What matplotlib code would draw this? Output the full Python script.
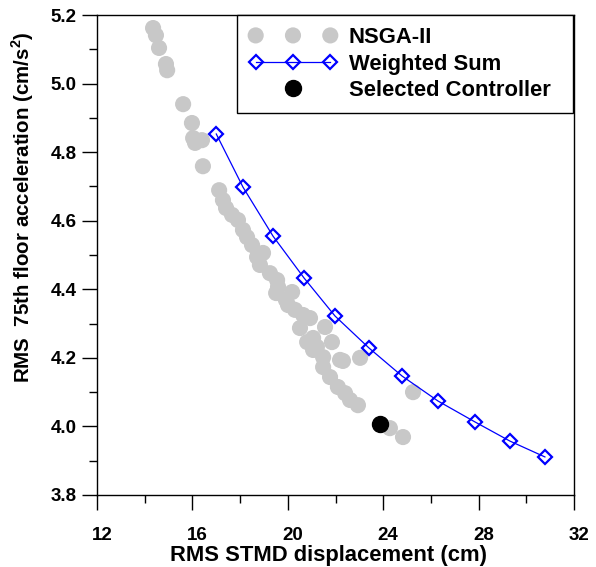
#!/usr/bin/env python3

import matplotlib
matplotlib.use('Agg')
import matplotlib.pyplot as plt
import matplotlib.ticker as ticker
import matplotlib.transforms as mtransforms
from matplotlib.legend_handler import HandlerLine2D

plt.rcParams['font.family'] = ['Liberation Sans', 'DejaVu Sans']
plt.rcParams['font.weight'] = 'bold'

# NSGA-II pareto front
nsga_x = [14.35, 14.47, 14.60, 14.89, 14.94, 15.61, 15.98, 16.03, 16.11, 16.40,
          16.44, 17.12, 17.28, 17.41, 17.66, 17.91, 18.12, 18.29, 18.50, 18.96,
          18.71, 18.83, 19.25, 19.55, 19.59, 19.51, 19.92, 20.01, 20.18, 20.30,
          20.64, 20.93, 20.51, 21.56, 20.81, 21.06, 21.06, 21.85, 21.22, 21.48,
          22.19, 22.31, 23.03, 21.48, 21.77, 22.10, 22.40, 22.61, 22.94, 24.28,
          24.83, 25.25]
nsga_y = [5.162, 5.141, 5.104, 5.057, 5.039, 4.940, 4.885, 4.841, 4.827, 4.835,
          4.759, 4.689, 4.660, 4.637, 4.617, 4.602, 4.573, 4.552, 4.529, 4.506,
          4.494, 4.471, 4.447, 4.427, 4.407, 4.389, 4.369, 4.354, 4.392, 4.340,
          4.325, 4.316, 4.287, 4.290, 4.246, 4.258, 4.223, 4.246, 4.232, 4.202,
          4.194, 4.191, 4.200, 4.173, 4.144, 4.115, 4.097, 4.077, 4.062, 3.995,
          3.969, 4.100]

# weighted sum front
ws_x = [17.00, 18.12, 19.38, 20.68, 21.98, 23.40, 24.79, 26.30, 27.85, 29.32, 30.78]
ws_y = [4.853, 4.698, 4.555, 4.433, 4.322, 4.229, 4.147, 4.074, 4.013, 3.957, 3.911]

# selected controller
sel_x = [23.87]
sel_y = [4.007]

fig = plt.figure(figsize=(5.96, 5.67), dpi=100)
ax = fig.add_axes([0.1628, 0.127, 0.8003, 0.8465])

nsga = ax.scatter(nsga_x, nsga_y, s=135, color='#c8c8c8', edgecolors='none',
                  label='NSGA-II', zorder=2)
ws, = ax.plot(ws_x, ws_y, '-', color='#0000ff', lw=0.9, marker='D', ms=7.5,
              mfc='none', mec='#0000ff', mew=1.6, label='Weighted Sum', zorder=3)
sel, = ax.plot(sel_x, sel_y, 'o', color='black', ms=11.5, ls='none',
               label='Selected Controller', zorder=4)

# axes
ax.set_xlim(12, 32)
ax.set_ylim(3.8, 5.2)
ax.xaxis.set_major_locator(ticker.MultipleLocator(4))
ax.xaxis.set_minor_locator(ticker.MultipleLocator(2))
ax.yaxis.set_major_locator(ticker.MultipleLocator(0.2))
ax.yaxis.set_minor_locator(ticker.MultipleLocator(0.1))
ax.xaxis.set_major_formatter(ticker.FormatStrFormatter('%d'))
ax.yaxis.set_major_formatter(ticker.FormatStrFormatter('%.1f'))

ax.tick_params(which='major', direction='out', length=11, width=1,
               labelsize=13.5, colors='black')
ax.tick_params(which='minor', direction='out', length=6, width=1)
ax.tick_params(axis='x', which='major', pad=12)
ax.tick_params(axis='y', which='major', pad=3.5)
for side in ax.spines.values():
    side.set_linewidth(1)

ax.set_xlabel('RMS STMD displacement (cm)', fontsize=15.8, fontweight='bold')
ax.set_ylabel('RMS  75th floor acceleration (cm/s$^\\mathregular{2}$)',
              fontsize=14.8, fontweight='bold')
ax.xaxis.set_label_coords(0.486, -0.105)
ax.yaxis.set_label_coords(-0.128, 0.60)

# x tick labels sit a few pixels right of their ticks in the original
shift = mtransforms.ScaledTranslation(5 / 100, 0, fig.dpi_scale_trans)
for lab in ax.get_xticklabels():
    lab.set_transform(lab.get_transform() + shift)
plt.setp(ax.get_xticklabels() + ax.get_yticklabels(), fontweight='bold')

leg = ax.legend(handles=[nsga, ws, sel],
                handler_map={sel: HandlerLine2D(numpoints=1)},
                loc='upper left', bbox_to_anchor=(0.2935, 0, 0.7045, 1.0),
                mode='expand', borderaxespad=0, scatterpoints=3,
                scatteryoffsets=[0.5], numpoints=3, handlelength=4.0,
                handletextpad=0.55, labelspacing=0.25, borderpad=0.55,
                fancybox=False, framealpha=1, edgecolor='black',
                prop={'size': 15.8, 'weight': 'bold'})
leg.get_frame().set_linewidth(1)

plt.savefig('out.png', dpi=100)
